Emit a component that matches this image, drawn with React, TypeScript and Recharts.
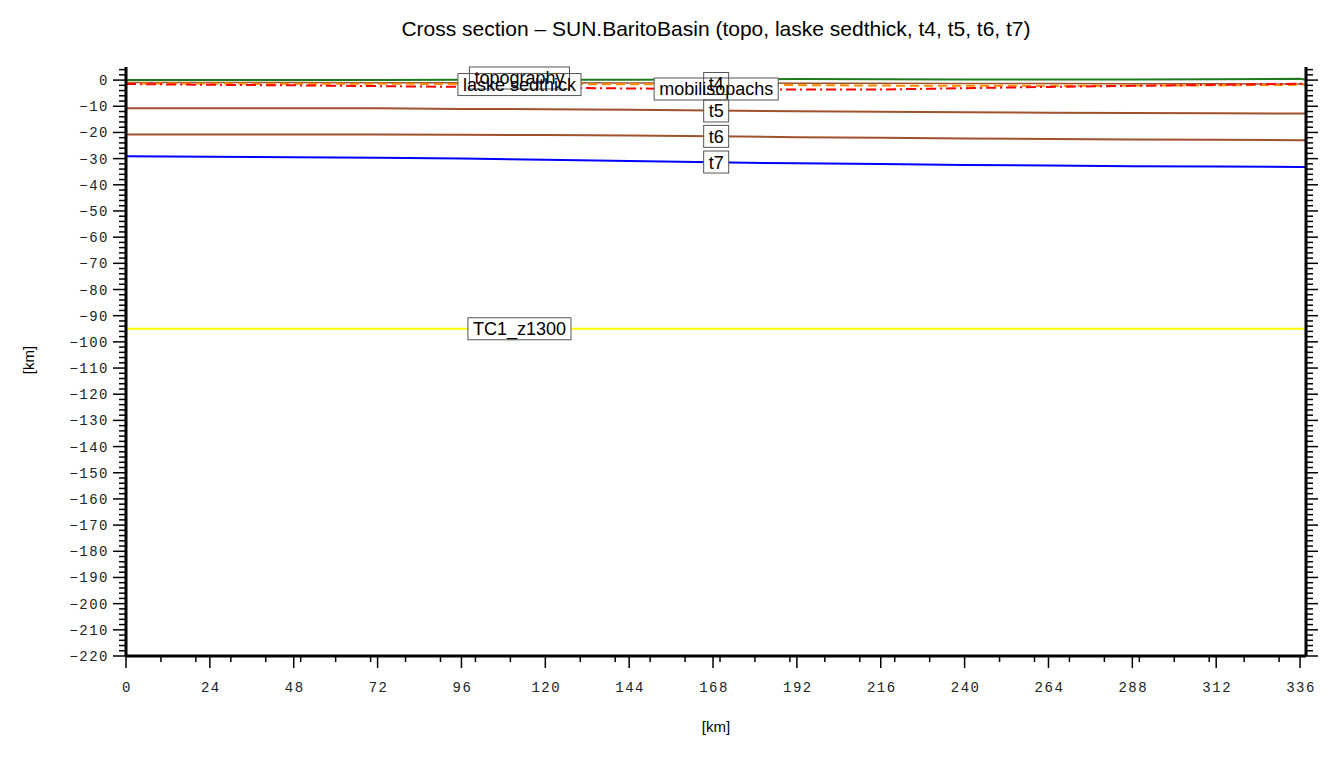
import React from 'react';
import { LineChart, Line, XAxis, YAxis, ReferenceDot } from 'recharts';

// distance along the section [km]
const xKm = [0, 24, 48, 72, 96, 120, 144, 168, 192, 216, 240, 264, 288, 312, 336, 337.7];

// depths [km]
const topo = [0, 0, 0, 0, 0.1, 0.1, 0.1, 0.2, 0.4, 0.3, 0.2, 0.2, 0.2, 0.3, 0.5, 0.1];
const laske = [-1.5, -1.8, -2.0, -2.3, -2.6, -2.9, -3.2, -3.4, -3.6, -3.6, -3.1, -2.6, -2.2, -1.8, -1.4, -1.4];
const mobilis = [-1.3, -1.3, -1.4, -1.4, -1.5, -1.5, -1.6, -1.7, -1.9, -2.1, -2.2, -2.2, -2.1, -2.0, -1.8, -1.8];
const t4 = [-0.9, -0.9, -0.9, -1.0, -1.0, -1.0, -1.1, -1.1, -1.2, -1.2, -1.3, -1.3, -1.4, -1.4, -1.5, -1.5];
const t5 = [-10.8, -10.8, -10.8, -10.8, -11.0, -11.1, -11.3, -11.6, -11.9, -12.1, -12.3, -12.5, -12.6, -12.7, -12.8, -12.8];
const t6 = [-20.8, -20.8, -20.8, -20.8, -20.9, -21.0, -21.2, -21.5, -21.8, -22.0, -22.3, -22.5, -22.7, -22.8, -23.0, -23.0];
const t7 = [-29.1, -29.3, -29.5, -29.7, -30.0, -30.4, -30.9, -31.4, -31.8, -32.1, -32.4, -32.6, -32.9, -33.0, -33.2, -33.2];
const tc1 = [-95, -95, -95, -95, -95, -95, -95, -95, -95, -95, -95, -95, -95, -95, -95, -95];

// curve labels (text, x km, depth km)
const labelText = ['topography', 'laske sedthick', 't4', 'mobilisopachs', 't5', 't6', 't7', 'TC1_z1300'];
const labelX = [112.6, 112.6, 168.9, 168.9, 168.9, 168.9, 168.9, 112.6];
const labelY = [0.8, -1.7, -1.3, -3.4, -11.8, -21.5, -31.3, -95];

// tick values
const xMajor = [0, 24, 48, 72, 96, 120, 144, 168, 192, 216, 240, 264, 288, 312, 336];
const xMinor = [10, 20, 30, 40, 50, 60, 70, 80, 90, 100, 110, 130, 140, 150, 160, 170, 180, 190, 200, 210, 220, 230, 250, 260, 270, 280, 290, 300, 310, 320, 330];
const yMajor = [-220, -210, -200, -190, -180, -170, -160, -150, -140, -130, -120, -110, -100, -90, -80, -70, -60, -50, -40, -30, -20, -10, 0];

const data = xKm.map((x, i) => ({
  x,
  topo: topo[i],
  laske: laske[i],
  mobilis: mobilis[i],
  t4: t4[i],
  t5: t5[i],
  t6: t6[i],
  t7: t7[i],
  tc1: tc1[i],
}));

const yTicks: number[] = [];
for (let v = -220; v <= 4; v += 2) yTicks.push(v);
const xTicks = [...xMajor, ...xMinor].sort((a, b) => a - b);

const LABEL_FONT = '18px "Liberation Sans", Arial, sans-serif';
let ctx: CanvasRenderingContext2D | null = null;
const textWidth = (s: string) => {
  if (!ctx) ctx = document.createElement('canvas').getContext('2d');
  if (!ctx) return s.length * 9;
  ctx.font = LABEL_FONT;
  return ctx.measureText(s).width;
};

const tickFont = { fontFamily: '"Liberation Mono", "DejaVu Sans Mono", monospace', fontSize: 14, fill: '#222', letterSpacing: 1.5 };

const fmt = (v: number) => (v < 0 ? '\u2212' + Math.abs(v) : String(v));

const XTick = (props: any) => {
  const { x, y, payload } = props;
  const major = xMajor.includes(payload.value);
  return (
    <g>
      <line x1={x} y1={y} x2={x} y2={y + (major ? 12 : 6)} stroke="#000" strokeWidth={1.5} />
      {major && (
        <text x={x + 1} y={y + 36} textAnchor="middle" {...tickFont}>
          {payload.value}
        </text>
      )}
    </g>
  );
};

const YTickLeft = (props: any) => {
  const { x, y, payload } = props;
  const major = yMajor.includes(payload.value);
  return (
    <g>
      <line x1={x - (major ? 13 : 7)} y1={y} x2={x} y2={y} stroke="#000" strokeWidth={1.5} />
      {major && (
        <text x={x - 17} y={y + 5} textAnchor="end" {...tickFont}>
          {fmt(payload.value)}
        </text>
      )}
    </g>
  );
};

const YTickRight = (props: any) => {
  const { x, y, payload } = props;
  const major = yMajor.includes(payload.value);
  return <line x1={x} y1={y} x2={x + (major ? 12 : 7)} y2={y} stroke="#000" strokeWidth={1.5} />;
};

const boxFill = (text: string) => (p: any) => {
  const w = textWidth(text) + 10;
  return <rect x={p.cx - w / 2} y={p.cy - 11} width={w} height={22} fill="#fff" />;
};
const boxLine = (text: string) => (p: any) => {
  const w = textWidth(text) + 10;
  return <rect x={p.cx - w / 2} y={p.cy - 11} width={w} height={22} fill="none" stroke="#555" strokeWidth={1} />;
};
const boxText = (text: string) => (p: any) => (
  <text x={p.cx} y={p.cy + 6.5} textAnchor="middle" fontFamily='"Liberation Sans", Arial, sans-serif' fontSize={18} fill="#000">
    {text}
  </text>
);

export default function App() {
  const layers = [boxFill, boxLine, boxText];
  return (
    <div style={{ position: 'absolute', left: 0, top: 0, width: 1340, height: 757, background: '#fff' }}>
      <div
        style={{
          position: 'absolute', left: 126, width: 1180, top: 17, textAlign: 'center',
          fontFamily: '"Liberation Sans", Arial, sans-serif', fontSize: 21, color: '#000',
        }}
      >
        Cross section – SUN.BaritoBasin (topo, laske sedthick, t4, t5, t6, t7)
      </div>
      <div
        style={{
          position: 'absolute', left: 126, width: 1180, top: 718, textAlign: 'center',
          fontFamily: '"Liberation Sans", Arial, sans-serif', fontSize: 15, color: '#000',
        }}
      >
        [km]
      </div>
      <div
        style={{
          position: 'absolute', left: 28, top: 360, transform: 'translate(-50%, -50%) rotate(-90deg)',
          fontFamily: '"Liberation Sans", Arial, sans-serif', fontSize: 15, color: '#000', whiteSpace: 'nowrap',
        }}
      >
        [km]
      </div>
      <LineChart width={1340} height={757} data={data} margin={{ top: 67, right: 0, bottom: 0, left: 0 }}>
        <XAxis
          dataKey="x"
          type="number"
          domain={[0, 337.7]}
          ticks={xTicks}
          interval={0}
          tickSize={0}
          tickMargin={0}
          tick={<XTick />}
          height={101}
          axisLine={{ stroke: '#000', strokeWidth: 3 }}
          allowDataOverflow
        />
        <YAxis
          yAxisId="left"
          type="number"
          domain={[-220, 5]}
          ticks={yTicks}
          interval={0}
          tickSize={0}
          tickMargin={0}
          tick={<YTickLeft />}
          width={126}
          axisLine={{ stroke: '#000', strokeWidth: 3 }}
          allowDataOverflow
        />
        <YAxis
          yAxisId="right"
          orientation="right"
          type="number"
          domain={[-220, 5]}
          ticks={yTicks}
          interval={0}
          tickSize={0}
          tickMargin={0}
          tick={<YTickRight />}
          width={34}
          axisLine={{ stroke: '#000', strokeWidth: 3 }}
          allowDataOverflow
        />
        <Line yAxisId="right" dataKey="tc1" stroke="#ffff00" strokeWidth={2} dot={false} isAnimationActive={false} />
        <Line yAxisId="left" dataKey="t7" stroke="#0000ff" strokeWidth={2} dot={false} isAnimationActive={false} />
        <Line yAxisId="left" dataKey="t6" stroke="#a0522d" strokeWidth={2} dot={false} isAnimationActive={false} />
        <Line yAxisId="left" dataKey="t5" stroke="#a0522d" strokeWidth={2} dot={false} isAnimationActive={false} />
        <Line yAxisId="left" dataKey="t4" stroke="#a0522d" strokeWidth={1.5} dot={false} isAnimationActive={false} />
        <Line yAxisId="left" dataKey="mobilis" stroke="#ff8c00" strokeWidth={2} strokeDasharray="9 5" dot={false} isAnimationActive={false} />
        <Line yAxisId="left" dataKey="laske" stroke="#ff0000" strokeWidth={2} strokeDasharray="10 4 2 4" dot={false} isAnimationActive={false} />
        <Line yAxisId="left" dataKey="topo" stroke="#1e7a1e" strokeWidth={2} dot={false} isAnimationActive={false} />
        {layers.map((layer, li) =>
          labelText.map((t, i) => (
            <ReferenceDot
              key={`${li}-${i}`}
              yAxisId="left"
              x={labelX[i]}
              y={labelY[i]}
              r={0}
              ifOverflow="visible"
              shape={layer(t)}
            />
          ))
        )}
      </LineChart>
    </div>
  );
}
